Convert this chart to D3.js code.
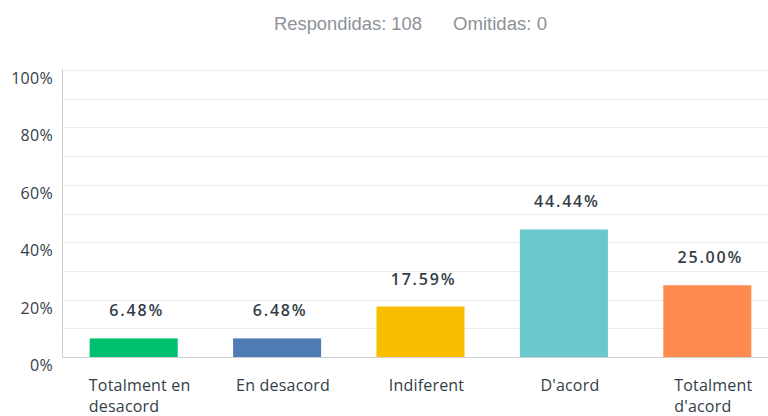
<!DOCTYPE html>
<html>
<head>
<meta charset="utf-8">
<script src="https://cdn.jsdelivr.net/npm/d3@7"></script>
<style>
  body { margin: 0; background: #fff; }
  svg { display: block; }
</style>
</head>
<body>
<div id="chart"></div>
<script>
const categories = [['Totalment en', 'desacord'], ['En desacord'], ['Indiferent'], ["D'acord"], ['Totalment', "d'acord"]];
const values = [6.48, 6.48, 17.59, 44.44, 25.00];
const colors = ['#00BF6F', '#507CB6', '#F9BE00', '#6BC8CD', '#FF8B4F'];
const yTicks = [0, 20, 40, 60, 80, 100];
const gridTicks = [10, 20, 30, 40, 50, 60, 70, 80, 90, 100];
const answered = 108;
const skipped = 0;

const width = 768, height = 416;
const font = "'Open Sans', 'Noto Sans', sans-serif";

const svg = d3.select('#chart').append('svg')
  .attr('width', width)
  .attr('height', height);

// header
svg.append('text')
  .attr('x', 274).attr('y', 30)
  .attr('font-family', "'Liberation Sans', Arial, sans-serif")
  .attr('font-size', 18)
  .attr('fill', '#8c9299')
  .attr('textLength', 148)
  .attr('lengthAdjust', 'spacingAndGlyphs')
  .text(`Respondidas: ${answered}`);
svg.append('text')
  .attr('x', 453).attr('y', 30)
  .attr('font-family', "'Liberation Sans', Arial, sans-serif")
  .attr('font-size', 18)
  .attr('fill', '#8c9299')
  .attr('textLength', 94)
  .attr('lengthAdjust', 'spacingAndGlyphs')
  .text(`Omitidas: ${skipped}`);

const plotLeft = 62, plotTop = 70, plotBottom = 357;

const y = d3.scaleLinear().domain([0, 100]).range([plotBottom, plotTop]);
const x = d3.scaleBand()
  .domain(d3.range(values.length))
  .range([plotLeft, plotLeft + 717])
  .paddingInner(0.386)
  .paddingOuter(0.193);

// gridlines
svg.append('g').selectAll('line')
  .data(gridTicks)
  .join('line')
  .attr('x1', plotLeft).attr('x2', width)
  .attr('y1', d => Math.round(y(d)) + 0.5).attr('y2', d => Math.round(y(d)) + 0.5)
  .attr('stroke', '#ececec');

// y tick labels
svg.append('g').selectAll('text')
  .data(yTicks)
  .join('text')
  .attr('x', 53)
  .attr('y', d => y(d) + 14)
  .attr('text-anchor', 'end')
  .attr('font-family', font)
  .attr('font-size', 16)
  .attr('letter-spacing', 0.3)
  .attr('fill', '#333e48')
  .text(d => d + '%');

// bars
svg.append('g').selectAll('rect')
  .data(values)
  .join('rect')
  .attr('x', (d, i) => x(i))
  .attr('width', x.bandwidth())
  .attr('y', d => y(d))
  .attr('height', d => plotBottom - y(d))
  .attr('fill', (d, i) => colors[i]);

// axes lines
svg.append('line')
  .attr('x1', plotLeft + 0.5).attr('x2', plotLeft + 0.5)
  .attr('y1', plotTop - 1).attr('y2', plotBottom)
  .attr('stroke', '#cfcfcf');
svg.append('line')
  .attr('x1', plotLeft).attr('x2', width)
  .attr('y1', plotBottom + 0.5).attr('y2', plotBottom + 0.5)
  .attr('stroke', '#cfcfcf');

// value labels
svg.append('g').selectAll('text')
  .data(values)
  .join('text')
  .attr('x', (d, i) => x(i) + x.bandwidth() / 2 + 3)
  .attr('y', d => y(d) - 22)
  .attr('text-anchor', 'middle')
  .attr('font-family', font)
  .attr('font-size', 16)
  .attr('font-weight', 600)
  .attr('letter-spacing', 1.8)
  .attr('fill', '#333e48')
  .text(d => d.toFixed(2) + '%');

// category labels, lines left aligned as a block centred under the bar
const catG = svg.append('g');
categories.forEach((lines, i) => {
  const t = catG.append('text')
    .attr('font-family', font)
    .attr('font-size', 16)
    .attr('letter-spacing', 0.2)
    .attr('fill', '#333e48');
  lines.forEach((line, j) => {
    t.append('tspan').attr('y', 391 + j * 21).text(line);
  });
  const maxW = d3.max(t.selectAll('tspan').nodes(), n => n.getComputedTextLength());
  const cx = x(i) + x.bandwidth() / 2 + 6;
  t.selectAll('tspan').attr('x', cx - maxW / 2);
});
</script>
</body>
</html>
